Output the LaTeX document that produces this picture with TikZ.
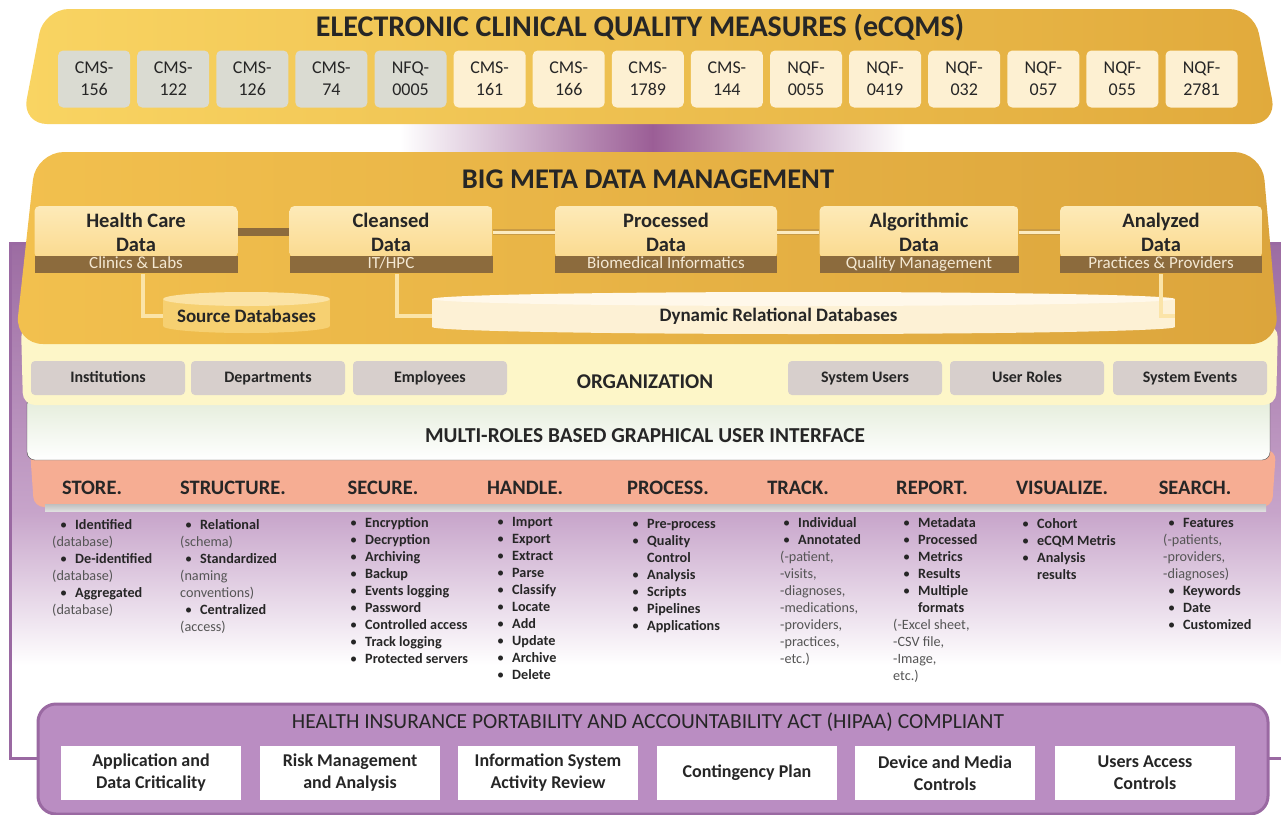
\documentclass[tikz,border=0pt]{standalone}
\usepackage{fontspec}
\setmainfont{Carlito}
\usepackage{tikz}

\definecolor{ecqmleft}{HTML}{F9D462}
\definecolor{ecqmright}{HTML}{E1AA3C}
\definecolor{qgrey}{HTML}{DADBD2}
\definecolor{qcream}{HTML}{FDF0D2}
\definecolor{linkpurple}{HTML}{9B5E96}
\definecolor{metaleft}{HTML}{F2C04E}
\definecolor{metaright}{HTML}{DCA53C}
\definecolor{datatop}{HTML}{FDEAB8}
\definecolor{databot}{HTML}{FBDA8F}
\definecolor{bandbrown}{HTML}{8C6B3D}
\definecolor{bandtext}{HTML}{F4E8D2}
\definecolor{linkedge}{HTML}{C99B45}
\definecolor{linkfill}{HTML}{FCEBC0}
\definecolor{linkcream}{HTML}{FBE4A8}
\definecolor{srcbody}{HTML}{F6D071}
\definecolor{srctop}{HTML}{FBE3A5}
\definecolor{dynbody}{HTML}{FDF1D5}
\definecolor{dyntop}{HTML}{FFF8EA}
\definecolor{orgyellow}{HTML}{FDF6C8}
\definecolor{orggrey}{HTML}{D7CFCC}
\definecolor{guigreen}{HTML}{E3ECD9}
\definecolor{salmon}{HTML}{F6AD93}
\definecolor{framedark}{HTML}{9C6CA2}
\definecolor{framemid}{HTML}{C7A4CA}
\definecolor{hipaafill}{HTML}{BA8DC2}
\definecolor{hipaadraw}{HTML}{9A69A2}
\definecolor{notegray}{HTML}{555555}

\newcommand{\itm}[1]{\makebox[15pt][l]{\textbullet}\textbf{#1}}
\newcommand{\pnote}[1]{{\color{notegray}#1}}

\begin{document}
\begin{tikzpicture}[x=1pt,y=-1pt,
  every node/.style={inner sep=0pt, text=black!85},
  qbox/.style={rounded corners=5pt, minimum width=72pt, minimum height=57pt, align=center, font=\fontsize{18}{22}\selectfont},
  databox/.style={rounded corners=5pt, top color=datatop, bottom color=databot, minimum height=52pt, align=center, font=\bfseries\fontsize{20.5}{24}\selectfont},
  databand/.style={fill=bandbrown, text=bandtext, minimum height=17pt, text height=11.5pt, text depth=3.5pt, font=\fontsize{17}{17}\selectfont},
  dbtext/.style={font=\bfseries\fontsize{19}{19}\selectfont},
  orgbox/.style={fill=orggrey, rounded corners=4pt, minimum width=154pt, minimum height=34pt, text height=11pt, text depth=3pt, font=\bfseries\fontsize{16}{16}\selectfont},
  heading/.style={font=\bfseries\fontsize{20.5}{20.5}\selectfont},
  itemlist/.style={anchor=north west, align=left, font=\fontsize{14.2}{17}\selectfont},
  hipaabox/.style={fill=white, minimum width=180pt, minimum height=54pt, align=center, font=\bfseries\fontsize{18}{22}\selectfont},
  brownlink/.style={draw=bandbrown, line width=8pt},
  palelink/.style={draw=linkedge, double=linkfill, double distance=3pt, line width=1.5pt},
  dblink/.style={draw=linkcream, line width=4pt}]
\useasboundingbox (0,0) rectangle (1281,814);

%purple frame
\shade[top color=framedark, bottom color=framemid] (10,243) rectangle (1295,512);
\shade[top color=framemid, bottom color=white] (10,512) rectangle (1295,665);
\draw[hipaadraw, line width=3pt] (10,243) rectangle (1295,758);

%link between the two top layers
\shade[left color=white, right color=white, middle color=linkpurple] (400,118) rectangle (905,158);

%functions band
\fill[salmon, rounded corners=10pt] (30,450) -- (1276,450) -- (1272,507) -- (34,507) -- cycle;
\shade[top color=gray!50, bottom color=gray!25] (45,504) rectangle (1266,511);
\foreach \x/\t/\nm in {92/STORE./hstore, 233/STRUCTURE./hstruct, 383/SECURE./hsecure,
  525/HANDLE./hhandle, 668/PROCESS./hprocess, 798/TRACK./htrack, 932/REPORT./hreport,
  1062/VISUALIZE./hvisual, 1195/SEARCH./hsearch}
  \node[heading] (\nm) at (\x,488) {\t};

%GUI
\shade[top color=guigreen, bottom color=white, rounded corners=8pt] (27,396) rectangle (1270,460);
\draw[gray!60!black, rounded corners=8pt] (27,396) rectangle (1270,460);
\node[font=\bfseries\fontsize{21.3}{21.3}\selectfont] (gui) at (645,436) {MULTI-ROLES BASED GRAPHICAL USER INTERFACE};

%organization
\fill[orgyellow, rounded corners=12pt] (21,325) -- (1278,325) -- (1276,405) -- (23,405) -- cycle;
\foreach \x/\t/\nm in {108/Institutions/inst, 268/Departments/dept, 430/Employees/empl,
  865/System Users/susr, 1027/User Roles/urol, 1190/System Events/sevt}
  \node[orgbox] (\nm) at (\x,378) {\t};
\node[font=\bfseries\fontsize{21}{21}\selectfont] (org) at (645,382) {ORGANIZATION};

%big meta data management
\shade[left color=metaleft, right color=metaright, rounded corners=28pt] (36,152) -- (1262,152) -- (1279,344) -- (15,344) -- cycle;
\node[font=\bfseries\fontsize{28.5}{28.5}\selectfont] (meta) at (648,179) {BIG META DATA MANAGEMENT};

\node[databox, minimum width=203pt] (hc) at (136,232) {Health Care\\Data};
\node[databox, minimum width=203pt] (cl) at (391,232) {Cleansed\\Data};
\node[databox, minimum width=222pt] (pr) at (666,232) {Processed\\Data};
\node[databox, minimum width=199pt] (al) at (919,232) {Algorithmic\\Data};
\node[databox, minimum width=202pt] (an) at (1161,232) {Analyzed\\Data};
\node[databand, minimum width=203pt, anchor=north] (hcb) at ([yshift=2pt]hc.south) {Clinics \& Labs};
\node[databand, minimum width=203pt, anchor=north] (clb) at ([yshift=2pt]cl.south) {IT/HPC};
\node[databand, minimum width=222pt, anchor=north] (prb) at ([yshift=2pt]pr.south) {Biomedical Informatics};
\node[databand, minimum width=199pt, anchor=north] (alb) at ([yshift=2pt]al.south) {Quality Management};
\node[databand, minimum width=202pt, anchor=north] (anb) at ([yshift=2pt]an.south) {Practices \& Providers};

\draw[brownlink] (hc.east) -- (cl.west);
\draw[palelink] (cl.east) -- (pr.west);
\draw[palelink] (pr.east) -- (al.west);
\draw[palelink] (al.east) -- (an.west);

%databases
\fill[srcbody] (163,299) rectangle (330,326);
\fill[srcbody] (246.5,326) ellipse [x radius=83.5, y radius=7];
\fill[srctop] (246.5,299) ellipse [x radius=83.5, y radius=7];
\node[dbtext, minimum width=167pt, minimum height=26pt] (srcdb) at (246.5,316) {Source Databases};
\fill[dynbody] (432,299) rectangle (1175,327);
\fill[dynbody] (803.5,327) ellipse [x radius=371.5, y radius=7];
\fill[dyntop] (803.5,299) ellipse [x radius=371.5, y radius=7];
\node[dbtext, minimum width=743pt, minimum height=26pt] (dyndb) at (803.5,316) {\hspace*{-50pt}Dynamic Relational Databases};

\draw[dblink] ([xshift=7pt]hcb.south) |- (srcdb.west);
\draw[dblink] ([xshift=6pt]clb.south) |- (dyndb.west);
\draw[dblink] (anb.south) |- (dyndb.east);

%eCQMs
\shade[left color=ecqmleft, right color=ecqmright, rounded corners=25pt] (44,9) -- (1254,9) -- (1277,124) -- (22,124) -- cycle;
\node[font=\bfseries\fontsize{30}{30}\selectfont] (ecqm) at (640,28) {ELECTRONIC CLINICAL QUALITY MEASURES (eCQMS)};
\foreach \lbl [count=\i] in {{CMS-\\156},{CMS-\\122},{CMS-\\126},{CMS-\\74},{NFQ-\\0005}}
  \node[qbox, fill=qgrey] (q\i) at ({15+79.1*\i},79) {\lbl};
\foreach \lbl [count=\i from 6] in {{CMS-\\161},{CMS-\\166},{CMS-\\1789},{CMS-\\144},{NQF-\\0055},
  {NQF-\\0419},{NQF-\\032},{NQF-\\057},{NQF-\\055},{NQF-\\2781}}
  \node[qbox, fill=qcream] (q\i) at ({15+79.1*\i},79) {\lbl};

%lists
\node[itemlist] (lstore) at (52,519) {\hspace*{8pt}\itm{Identified}\\ \pnote{(database)}\\
  \hspace*{8pt}\itm{De-identified}\\ \pnote{(database)}\\ \hspace*{8pt}\itm{Aggregated}\\ \pnote{(database)}};
\node[itemlist] (lstruct) at (180,519) {\hspace*{5pt}\itm{Relational}\\ \pnote{(schema)}\\
  \hspace*{5pt}\itm{Standardized}\\ \pnote{(naming}\\ \pnote{conventions)}\\ \hspace*{5pt}\itm{Centralized}\\ \pnote{(access)}};
\node[itemlist] (lsecure) at (350,517) {\itm{Encryption}\\ \itm{Decryption}\\ \itm{Archiving}\\ \itm{Backup}\\
  \itm{Events logging}\\ \itm{Password}\\ \itm{Controlled access}\\ \itm{Track logging}\\ \itm{Protected servers}};
\node[itemlist] (lhandle) at (497,517) {\itm{Import}\\ \itm{Export}\\ \itm{Extract}\\ \itm{Parse}\\ \itm{Classify}\\
  \itm{Locate}\\ \itm{Add}\\ \itm{Update}\\ \itm{Archive}\\ \itm{Delete}};
\node[itemlist] (lprocess) at (632,519) {\itm{Pre-process}\\ \itm{Quality}\\ \hspace*{15pt}\textbf{Control}\\
  \itm{Analysis}\\ \itm{Scripts}\\ \itm{Pipelines}\\ \itm{Applications}};
\node[itemlist] (ltrack) at (780,517) {\hspace*{3pt}\itm{Individual}\\ \hspace*{3pt}\itm{Annotated}\\ \pnote{(-patient,}\\
  \pnote{-visits,}\\ \pnote{-diagnoses,}\\ \pnote{-medications,}\\ \pnote{-providers,}\\ \pnote{-practices,}\\ \pnote{-etc.)}};
\node[itemlist] (lreport) at (893,517) {\hspace*{10pt}\itm{Metadata}\\ \hspace*{10pt}\itm{Processed}\\ \hspace*{10pt}\itm{Metrics}\\
  \hspace*{10pt}\itm{Results}\\ \hspace*{10pt}\itm{Multiple}\\ \hspace*{25pt}\textbf{formats}\\ \pnote{(-Excel sheet,}\\
  \pnote{-CSV file,}\\ \pnote{-Image,}\\ \pnote{etc.)}};
\node[itemlist] (lvisual) at (1022,518) {\itm{Cohort}\\ \itm{eCQM Metris}\\ \itm{Analysis}\\ \hspace*{15pt}\textbf{results}};
\node[itemlist] (lsearch) at (1163,518) {\hspace*{5pt}\itm{Features}\\ \pnote{(-patients,}\\ \pnote{-providers,}\\
  \pnote{-diagnoses)}\\ \hspace*{5pt}\itm{Keywords}\\ \hspace*{5pt}\itm{Date}\\ \hspace*{5pt}\itm{Customized}};

%HIPAA
\draw[hipaadraw, line width=3pt, fill=hipaafill, rounded corners=18pt] (38,704) rectangle (1268,814);
\node[font=\fontsize{21.5}{21.5}\selectfont] (hipaa) at (648,722) {HEALTH INSURANCE PORTABILITY AND ACCOUNTABILITY ACT (HIPAA) COMPLIANT};
\foreach \x/\t/\nm in {151/{Application and\\Data Criticality}/hp1, 350/{Risk Management\\and Analysis}/hp2,
  548/{Information System\\Activity Review}/hp3, 747/{Contingency Plan}/hp4,
  945/{Device and Media\\Controls}/hp5, 1145/{Users Access\\Controls}/hp6}
  \node[hipaabox] (\nm) at (\x,773) {\t};
\end{tikzpicture}
\end{document}
